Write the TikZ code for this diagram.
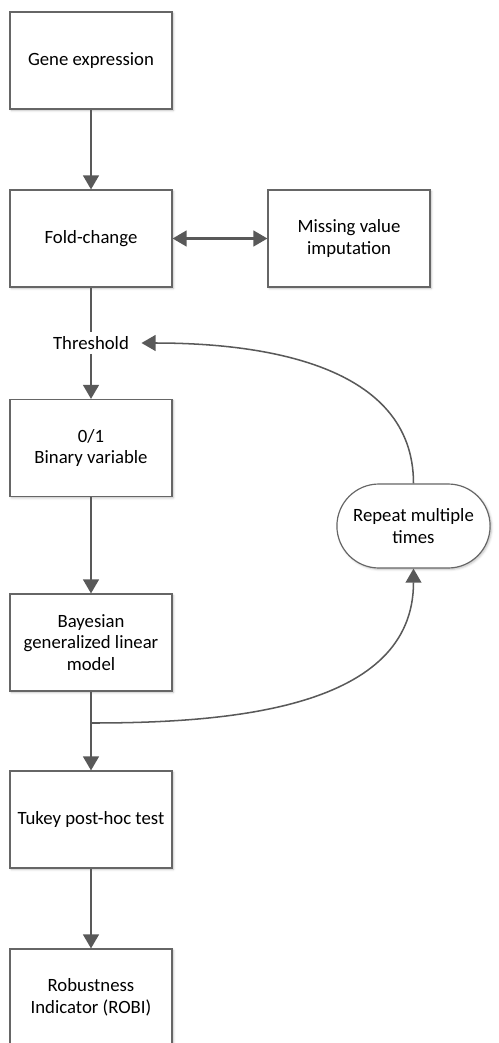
\documentclass[tikz,border=0pt]{standalone}
\usepackage{fontspec}
\setmainfont{Carlito}
\usetikzlibrary{arrows.meta,positioning,shapes.misc,shadows.blur}
\definecolor{linegray}{HTML}{595959}
\definecolor{boxgray}{HTML}{666666}
\tikzset{
    flow box/.style={
        draw=boxgray,line width=1pt,
        fill=white,
        minimum width=4.86cm,minimum height=2.91cm,
        align=center,
        blur shadow={shadow xshift=1.2pt,shadow yshift=-1.2pt,shadow blur steps=4,shadow opacity=25},
        font=\fontsize{16}{18.5}\selectfont
    },
    loop box/.style={flow box,rounded rectangle,minimum width=4.83cm,minimum height=2.52cm},
    flow line/.style={draw=linegray,line width=1.8pt},
    loop line/.style={draw=linegray,line width=1.3pt},
    >={Triangle[width=13.5pt,length=12pt]}
}

\begin{document}
\begin{tikzpicture}
\useasboundingbox (0,0) rectangle (14.94,-31.29);
\node[flow box] (gene) at (2.73,-1.815) {Gene expression};
\node[flow box] (fold) at (2.73,-7.155) {Fold-change};
\node[flow box] (missing) at (10.47,-7.155) {Missing value\\imputation};
\node[font=\fontsize{16}{18.5}\selectfont,inner xsep=0.37cm,inner ysep=0.12cm] (thresh) at (2.73,-10.29) {Threshold};
\node[flow box] (binary) at (2.73,-13.44) {0/1\\Binary variable};
\node[flow box] (bayes) at (2.73,-19.275) {Bayesian\\generalized linear\\model};
\node[flow box] (tukey) at (2.73,-24.585) {Tukey post-hoc test};
\node[flow box] (robi) at (2.73,-29.925) {Robustness\\Indicator (ROBI)};
\node[loop box] (repeat) at (12.405,-15.78) {Repeat multiple\\times};
\coordinate (split) at (2.73,-21.69);
% main flow
\foreach \a/\b in {gene/fold,thresh/binary,binary/bayes,bayes/tukey,tukey/robi}
    \draw[flow line,->] (\a) -- (\b);
\draw[flow line] (fold) -- (thresh);
\draw[flow line,<->] (fold) -- (missing);
% loop back
\draw[loop line,->] (split) to[out=0,in=-90] (repeat.south);
\draw[loop line,->] (repeat.north) to[out=90,in=0] (thresh.east);
\end{tikzpicture}
\end{document}
